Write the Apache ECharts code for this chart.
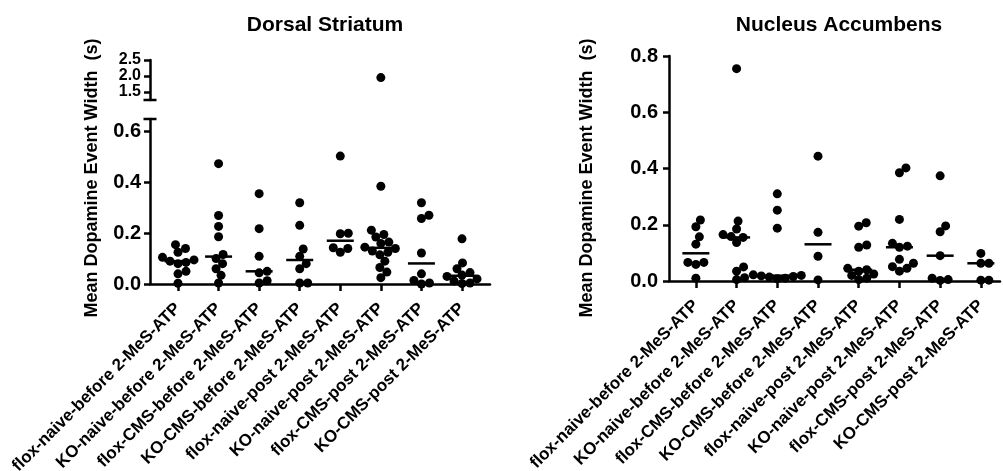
<!DOCTYPE html>
<html>
<head>
<meta charset="utf-8">
<script src="https://cdn.jsdelivr.net/npm/echarts@6/dist/echarts.min.js"></script>
<style>
  html, body { margin: 0; padding: 0; background: #fff; }
  #main { width: 1003px; height: 471px; }
</style>
</head>
<body>
<div id="main"></div>
<script>
var categories = ['flox-naive-before 2-MeS-ATP', 'KO-naive-before 2-MeS-ATP', 'flox-CMS-before 2-MeS-ATP', 'KO-CMS-before 2-MeS-ATP',
    'flox-naive-post 2-MeS-ATP', 'KO-naive-post 2-MeS-ATP', 'flox-CMS-post 2-MeS-ATP', 'KO-CMS-post 2-MeS-ATP'];

// Dorsal Striatum, one list per group (s)
var dorsalValues = [
    [0.155, 0.14, 0.125, 0.105, 0.095, 0.09, 0.085, 0.08, 0.05, 0.04, 0.003],
    [0.474, 0.27, 0.227, 0.186, 0.116, 0.10, 0.08, 0.06, 0.034, 0.004],
    [0.356, 0.218, 0.109, 0.05, 0.044, 0.013, 0.004],
    [0.32, 0.231, 0.138, 0.109, 0.08, 0.06, 0.004, 0.004],
    [0.504, 0.2, 0.198, 0.143, 0.14, 0.125],
    [1.95, 0.385, 0.212, 0.195, 0.185, 0.165, 0.16, 0.145, 0.14, 0.13, 0.125, 0.115, 0.09, 0.065, 0.047, 0.025],
    [0.32, 0.271, 0.258, 0.122, 0.04, 0.014, 0.004, 0.0],
    [0.178, 0.083, 0.06, 0.045, 0.035, 0.03, 0.02, 0.012, 0.004, 0.002]
];

// Nucleus Accumbens
var accumbensValues = [
    [0.217, 0.193, 0.157, 0.131, 0.066, 0.066, 0.059, 0.01],
    [0.755, 0.213, 0.185, 0.165, 0.158, 0.155, 0.137, 0.05, 0.035, 0.012, 0.005],
    [0.31, 0.252, 0.188, 0.022, 0.02, 0.018, 0.016, 0.014, 0.01, 0.008],
    [0.444, 0.173, 0.088, 0.004],
    [0.207, 0.195, 0.128, 0.12, 0.045, 0.04, 0.035, 0.025, 0.02, 0.01, 0.005],
    [0.402, 0.385, 0.219, 0.134, 0.124, 0.12, 0.077, 0.063, 0.051, 0.045, 0.035],
    [0.374, 0.196, 0.175, 0.09, 0.01, 0.005, 0.002],
    [0.098, 0.063, 0.063, 0.003, 0.003]
];

var dsLowerTicks = [0, 0.2, 0.4, 0.6];
var dsUpperTicks = [1.5, 2.0, 2.5];
var breakLow = 0.65, breakHigh = 1.25;

var FONT = '"Liberation Sans", Arial, sans-serif';
var groupTicks = [1, 2, 3, 4, 5, 6, 7, 8];

// layout (px)
var gDS = { left: 150, top: 119, width: 340, height: 165 };
var gDSup = { left: 150, top: 60, width: 340, height: 40 };
var gNA = { left: 669, top: 56, width: 331, height: 225 };
var dsX = [0.31, 8.69], naX = [0.34, 8.47];
var DOT = 9;

function median(a) {
    var s = a.slice().sort(function (p, q) { return p - q; });
    var n = s.length;
    return n % 2 ? s[(n - 1) / 2] : (s[n / 2 - 1] + s[n / 2]) / 2;
}

// simple beeswarm: horizontal offsets (in axis units) so dots don't pile up
function swarm(vals, pxPerY, pxPerX) {
    var placed = [];
    var order = vals.map(function (v, i) { return i; }).sort(function (a, b) { return vals[a] - vals[b]; });
    var out = [];
    var dmin = DOT - 1;
    order.forEach(function (i) {
        var y = vals[i] * pxPerY;
        var off = 0;
        for (var k = 0; k < 200; k++) {
            var cand = (k % 2 ? 1 : -1) * Math.ceil(k / 2) * 0.5;
            var ok = placed.every(function (p) {
                var dx = cand - p.x, dy = y - p.y;
                return dx * dx + dy * dy >= dmin * dmin;
            });
            if (ok) { off = cand; break; }
        }
        placed.push({ x: off, y: y });
        out[i] = off / pxPerX;
    });
    return out;
}

function dotData(groups, filter, pxPerY, pxPerX) {
    var data = [];
    groups.forEach(function (g, gi) {
        var vals = g.filter(filter);
        var offs = swarm(vals, pxPerY, pxPerX);
        vals.forEach(function (v, i) { data.push([gi + 1 + offs[i], v]); });
    });
    return data;
}

function medianData(groups) {
    return groups.map(function (g, gi) { return [gi + 1, median(g)]; });
}

var dsPxY = gDS.height / breakLow;
var dsUpPxY = gDSup.height / (2.5 - breakHigh);
var dsPxX = gDS.width / (dsX[1] - dsX[0]);
var naPxY = gNA.height / 0.8;
var naPxX = gNA.width / (naX[1] - naX[0]);

var axisLine = { show: true, lineStyle: { color: '#000', width: 2.5 } };
var yTick = { show: true, length: 6, lineStyle: { color: '#000', width: 2.5 } };
var xTick = { show: true, length: 7, customValues: groupTicks, lineStyle: { color: '#000', width: 2.5 } };
var yLabel = { color: '#000', fontSize: 20, fontWeight: 'bold', fontFamily: FONT, margin: 9, hideOverlap: false,
    formatter: function (v) { return v.toFixed(1); } };
var xLabel = { color: '#000', fontSize: 17, fontWeight: 'bold', fontFamily: FONT, rotate: 45, margin: 22,
    hideOverlap: false, customValues: groupTicks, formatter: function (v) { return categories[Math.round(v) - 1]; } };

function dots(xi, yi, data) {
    return { type: 'scatter', xAxisIndex: xi, yAxisIndex: yi, data: data, symbol: 'circle', symbolSize: DOT,
        itemStyle: { color: '#000', opacity: 1 }, clip: false, z: 3, silent: true };
}
function medians(xi, yi, data) {
    return { type: 'scatter', xAxisIndex: xi, yAxisIndex: yi, data: data, symbol: 'rect', symbolSize: [27, 2.5],
        itemStyle: { color: '#000', opacity: 1 }, clip: false, z: 2, silent: true };
}

var option = {
    animation: false,
    backgroundColor: '#fff',
    title: [
        { text: 'Dorsal Striatum', left: 320, top: 10, textAlign: 'center',
            textStyle: { fontSize: 21, fontWeight: 'bold', color: '#000', fontFamily: FONT } },
        { text: 'Nucleus Accumbens', left: 834, top: 10, textAlign: 'center',
            textStyle: { fontSize: 21, fontWeight: 'bold', color: '#000', fontFamily: FONT } }
    ],
    graphic: [
        { type: 'text', x: 92, y: 178, rotation: Math.PI / 2,
            style: { text: 'Mean Dopamine Event Width  (s)', font: 'bold 18px ' + FONT, fill: '#000',
                textAlign: 'center', textVerticalAlign: 'middle' } },
        { type: 'text', x: 587, y: 178, rotation: Math.PI / 2,
            style: { text: 'Mean Dopamine Event Width  (s)', font: 'bold 18px ' + FONT, fill: '#000',
                textAlign: 'center', textVerticalAlign: 'middle' } }
    ],
    grid: [
        Object.assign({ containLabel: false, outerBoundsMode: 'none' }, gDS),
        Object.assign({ containLabel: false, outerBoundsMode: 'none' }, gDSup),
        Object.assign({ containLabel: false, outerBoundsMode: 'none' }, gNA)
    ],
    xAxis: [
        { type: 'value', gridIndex: 0, min: dsX[0], max: dsX[1], axisLine: axisLine, axisTick: xTick,
            axisLabel: xLabel, splitLine: { show: false } },
        { type: 'value', gridIndex: 1, min: dsX[0], max: dsX[1], show: false, splitLine: { show: false } },
        { type: 'value', gridIndex: 2, min: naX[0], max: naX[1], axisLine: axisLine, axisTick: xTick,
            axisLabel: xLabel, splitLine: { show: false } }
    ],
    yAxis: [
        { type: 'value', gridIndex: 0, min: 0, max: breakLow, axisLine: axisLine,
            axisTick: Object.assign({ customValues: dsLowerTicks }, yTick),
            axisLabel: Object.assign({ customValues: dsLowerTicks }, yLabel), splitLine: { show: false } },
        { type: 'value', gridIndex: 1, min: breakHigh, max: 2.5, axisLine: axisLine,
            axisTick: Object.assign({ customValues: dsUpperTicks }, yTick),
            axisLabel: Object.assign({ customValues: dsUpperTicks }, yLabel, { fontSize: 16, lineHeight: 14 }),
            splitLine: { show: false } },
        { type: 'value', gridIndex: 2, min: 0, max: 0.8, interval: 0.2, axisLine: axisLine, axisTick: yTick,
            axisLabel: Object.assign({}, yLabel, { margin: 11 }), splitLine: { show: false } }
    ],
    series: [
        medians(0, 0, medianData(dorsalValues)),
        dots(0, 0, dotData(dorsalValues, function (v) { return v <= breakLow; }, dsPxY, dsPxX)),
        dots(1, 1, dotData(dorsalValues, function (v) { return v >= breakHigh; }, dsUpPxY, dsPxX)),
        // axis break caps
        { type: 'scatter', xAxisIndex: 0, yAxisIndex: 0, data: [[dsX[0], breakLow]], symbol: 'rect',
            symbolSize: [13, 2.5], itemStyle: { color: '#000', opacity: 1 }, clip: false, silent: true },
        { type: 'scatter', xAxisIndex: 1, yAxisIndex: 1, data: [[dsX[0], breakHigh]], symbol: 'rect',
            symbolSize: [13, 2.5], itemStyle: { color: '#000', opacity: 1 }, clip: false, silent: true },
        medians(2, 2, medianData(accumbensValues)),
        dots(2, 2, dotData(accumbensValues, function () { return true; }, naPxY, naPxX))
    ]
};

var chart = echarts.init(document.getElementById('main'));
chart.setOption(option);
</script>
</body>
</html>
